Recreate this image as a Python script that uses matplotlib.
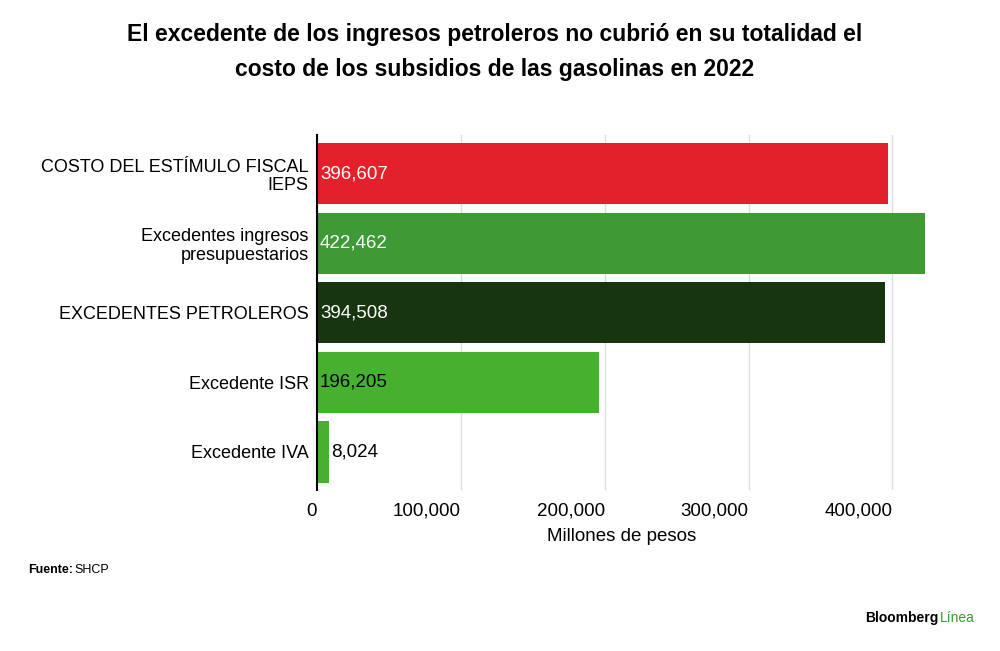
import matplotlib.pyplot as plt

categories = ["COSTO DEL ESTÍMULO FISCAL\nIEPS", "Excedentes ingresos\npresupuestarios",
              "EXCEDENTES PETROLEROS", "Excedente ISR", "Excedente IVA"]
values = [396607, 422462, 394508, 196205, 8024]
colors = ["#e3212b", "#3d9a35", "#17360f", "#46b02f", "#46b02f"]
label_colors = ["white", "white", "white", "black", "black"]
ticks = [0, 100000, 200000, 300000, 400000]

plt.rcParams['font.family'] = ['Liberation Sans', 'DejaVu Sans']
fig = plt.figure(figsize=(10, 6.51), dpi=100)
ax = fig.add_axes([0.317, 0.247, 0.61, 0.545])

y = list(range(len(categories)))
ax.barh(y, values, height=0.88, color=colors, zorder=2)
ax.set_ylim(4.55, -0.55)
ax.set_xlim(0, 424000)
ax.set_yticks(y)
ax.set_yticklabels(categories, fontsize=13, linespacing=1.1)
ax.set_xticks(ticks)
ax.set_xticklabels([f"{t:,}" for t in ticks], fontsize=13.5, ha='right')
ax.tick_params(length=0, pad=6)
ax.tick_params(axis='x', pad=9)
ax.grid(axis='x', color='#dddddd', lw=1, zorder=0)
for s in ['top', 'right', 'bottom']:
    ax.spines[s].set_visible(False)
ax.spines['left'].set_linewidth(1.5)
for i, v in enumerate(values):
    x = 2000 if v > 50000 else v + 2000
    ax.text(x, i, f"{v:,}", va='center', ha='left', fontsize=13.5, color=label_colors[i], zorder=3)
ax.set_xlabel("Millones de pesos", fontsize=13.5, labelpad=6)

fig.text(0.495, 0.92, "El excedente de los ingresos petroleros no cubrió en su totalidad el\ncosto de los subsidios de las gasolinas en 2022",
         ha='center', va='center', fontsize=16.5, fontweight='bold', linespacing=1.7)
fig.text(0.028, 0.12, "Fuente:", fontsize=9, fontweight='bold')
fig.text(0.074, 0.12, "SHCP", fontsize=9)
fig.text(0.865, 0.045, "Bloomberg", fontsize=10, fontweight='bold')
fig.text(0.94, 0.045, "Línea", fontsize=10, color='#3d9a35')
fig.savefig("out.png")
